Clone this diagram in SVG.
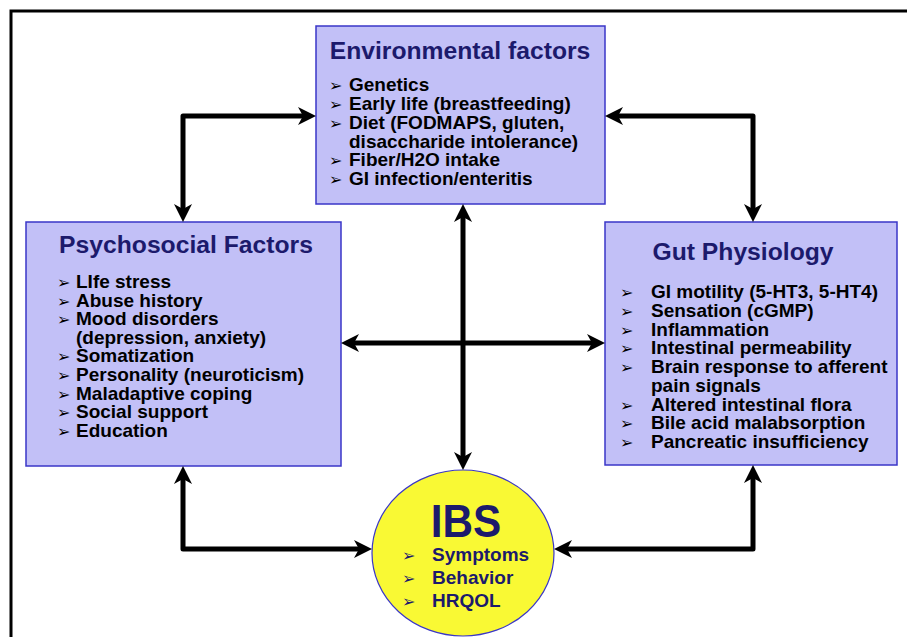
<svg xmlns="http://www.w3.org/2000/svg" width="907" height="637" viewBox="0 0 907 637">
<style>
.box{fill:#c2c0f7;stroke:#3a36c8;stroke-width:1.5}
.title{font-family:"Liberation Sans",Arial,sans-serif;font-weight:bold;font-size:24.7px;fill:#1c1a6c;text-anchor:middle}
.item{font-family:"Liberation Sans",Arial,sans-serif;font-weight:bold;font-size:19px;fill:#000}
.bul{font-family:"DejaVu Sans",sans-serif;font-size:16px;font-weight:normal}
.ibs{font-family:"Liberation Sans",Arial,sans-serif;font-weight:bold;fill:#1c1a6c}
.conn{fill:none;stroke:#000;stroke-width:5;stroke-linejoin:round}
</style>
<defs>
<marker id="ah" viewBox="0 0 20 20" refX="12" refY="10" markerWidth="20" markerHeight="20" markerUnits="userSpaceOnUse" orient="auto-start-reverse">
<path d="M2,1 L20,10 L2,19 L7,10 z" fill="#000"/>
</marker>
</defs>
<rect x="0" y="0" width="907" height="637" fill="#fff"/>
<rect x="11" y="11" width="920" height="660" fill="none" stroke="#000" stroke-width="3"/>

<g id="environmental">
<rect class="box" x="316" y="26" width="289" height="178"/>
<text class="title" x="460" y="59">Environmental factors</text>
<g class="item">
<text y="91"><tspan class="bul" x="329">➢</tspan><tspan x="349">Genetics</tspan></text>
<text y="110"><tspan class="bul" x="329">➢</tspan><tspan x="349">Early life (breastfeeding)</tspan></text>
<text y="129"><tspan class="bul" x="329">➢</tspan><tspan x="349">Diet (FODMAPS, gluten,</tspan></text>
<text x="349" y="147.5">disaccharide intolerance)</text>
<text y="166"><tspan class="bul" x="329">➢</tspan><tspan x="349">Fiber/H2O intake</tspan></text>
<text y="185"><tspan class="bul" x="329">➢</tspan><tspan x="349">GI infection/enteritis</tspan></text>
</g>
</g>

<g id="psychosocial">
<rect class="box" x="26" y="222" width="315" height="244"/>
<text class="title" x="186" y="253">Psychosocial Factors</text>
<g class="item">
<text y="288"><tspan class="bul" x="57">➢</tspan><tspan x="76">LIfe stress</tspan></text>
<text y="306.6"><tspan class="bul" x="57">➢</tspan><tspan x="76">Abuse history</tspan></text>
<text y="325.2"><tspan class="bul" x="57">➢</tspan><tspan x="76">Mood disorders</tspan></text>
<text x="76" y="343.8">(depression, anxiety)</text>
<text y="362.4"><tspan class="bul" x="57">➢</tspan><tspan x="76">Somatization</tspan></text>
<text y="381"><tspan class="bul" x="57">➢</tspan><tspan x="76">Personality (neuroticism)</tspan></text>
<text y="399.6"><tspan class="bul" x="57">➢</tspan><tspan x="76">Maladaptive coping</tspan></text>
<text y="418.2"><tspan class="bul" x="57">➢</tspan><tspan x="76">Social support</tspan></text>
<text y="436.8"><tspan class="bul" x="57">➢</tspan><tspan x="76">Education</tspan></text>
</g>
</g>

<g id="gut">
<rect class="box" x="605" y="222" width="292" height="243"/>
<text class="title" x="743" y="260">Gut Physiology</text>
<g class="item">
<text y="298"><tspan class="bul" x="620">➢</tspan><tspan x="651">GI motility (5-HT3, 5-HT4)</tspan></text>
<text y="316.75"><tspan class="bul" x="620">➢</tspan><tspan x="651">Sensation (cGMP)</tspan></text>
<text y="335.5"><tspan class="bul" x="620">➢</tspan><tspan x="651">Inflammation</tspan></text>
<text y="354.25"><tspan class="bul" x="620">➢</tspan><tspan x="651">Intestinal permeability</tspan></text>
<text y="373"><tspan class="bul" x="620">➢</tspan><tspan x="651">Brain response to afferent</tspan></text>
<text x="651" y="391.75">pain signals</text>
<text y="410.5"><tspan class="bul" x="620">➢</tspan><tspan x="651">Altered intestinal flora</tspan></text>
<text y="429.25"><tspan class="bul" x="620">➢</tspan><tspan x="651">Bile acid malabsorption</tspan></text>
<text y="448"><tspan class="bul" x="620">➢</tspan><tspan x="651">Pancreatic insufficiency</tspan></text>
</g>
</g>

<g id="ibs">
<ellipse cx="463" cy="553" rx="91" ry="83" fill="#f9f934" stroke="#3a36c8" stroke-width="1.2"/>
<text class="ibs" font-size="47" text-anchor="middle" transform="translate(466,537) scale(0.9,1)">IBS</text>
<g class="ibs" font-size="19">
<text y="561"><tspan class="bul" x="402">➢</tspan><tspan x="432">Symptoms</tspan></text>
<text y="584"><tspan class="bul" x="402">➢</tspan><tspan x="432">Behavior</tspan></text>
<text y="607"><tspan class="bul" x="402">➢</tspan><tspan x="432">HRQOL</tspan></text>
</g>
</g>

<g id="connectors">
<path class="conn" d="M183,214 V116 H308" marker-start="url(#ah)" marker-end="url(#ah)"/>
<path class="conn" d="M613,116 H753 V214" marker-start="url(#ah)" marker-end="url(#ah)"/>
<path class="conn" d="M349,343 H597" marker-start="url(#ah)" marker-end="url(#ah)"/>
<path class="conn" d="M463,212 V462" marker-start="url(#ah)" marker-end="url(#ah)"/>
<path class="conn" d="M183,474 V549 H364" marker-start="url(#ah)" marker-end="url(#ah)"/>
<path class="conn" d="M753,473 V549 H562" marker-start="url(#ah)" marker-end="url(#ah)"/>
</g>
</svg>
